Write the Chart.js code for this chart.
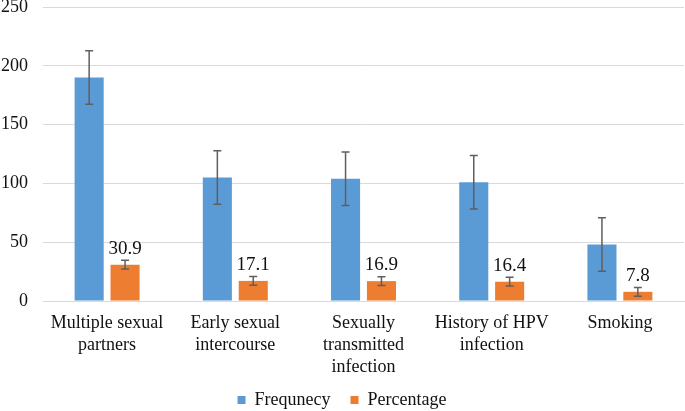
<!DOCTYPE html>
<html>
<head>
<meta charset="utf-8">
<script src="https://cdn.jsdelivr.net/npm/chart.js@4"></script>
<style>
  html, body { margin: 0; padding: 0; background: #fff; }
  #wrap { width: 685px; height: 411px; }
</style>
</head>
<body>
<div id="wrap"><canvas id="chart"></canvas></div>
<script>
const categories = [
  ['Multiple sexual', 'partners'],
  ['Early sexual', 'intercourse'],
  ['Sexually', 'transmitted', 'infection'],
  ['History of HPV', 'infection'],
  ['Smoking']
];
const frequency = [190, 105, 104, 101, 48];
const percentage = [30.9, 17.1, 16.9, 16.4, 7.8];
const frequencyErr = [22.8, 22.8, 22.8, 22.8, 22.8];
const percentageErr = [3.7, 3.7, 3.7, 3.7, 3.7];
const yTicks = [0, 50, 100, 150, 200, 250];

const serif = '"Liberation Serif", "Times New Roman", serif';

// error bars + value labels on the percentage bars
const errorBars = {
  id: 'errorBars',
  afterDatasetsDraw(chart) {
    const ctx = chart.ctx;
    const y = chart.scales.y;
    chart.data.datasets.forEach((ds, di) => {
      const meta = chart.getDatasetMeta(di);
      meta.data.forEach((bar, i) => {
        const v = ds.data[i];
        const e = ds.errors[i];
        const top = y.getPixelForValue(v + e);
        const bot = y.getPixelForValue(v - e);
        ctx.save();
        ctx.strokeStyle = '#5f5f5f';
        ctx.lineWidth = 1.5;
        ctx.beginPath();
        ctx.moveTo(bar.x, top); ctx.lineTo(bar.x, bot);
        ctx.moveTo(bar.x - 4, top); ctx.lineTo(bar.x + 4, top);
        ctx.moveTo(bar.x - 4, bot); ctx.lineTo(bar.x + 4, bot);
        ctx.stroke();
        if (ds.showValues) {
          ctx.fillStyle = '#111';
          ctx.font = '19px ' + serif;
          ctx.textAlign = 'center';
          ctx.textBaseline = 'bottom';
          ctx.fillText(String(v), bar.x, top - 2);
        }
        ctx.restore();
      });
    });
  }
};

// legend box is kept short for the layout, then stretched upward for drawing
const legendNudge = {
  id: 'legendNudge',
  afterLayout(chart) {
    chart.legend.top -= 18;
    chart.legend.height += 18;
  }
};

new Chart(document.getElementById('chart'), {
  type: 'bar',
  data: {
    labels: categories,
    datasets: [
      {
        label: 'Frequnecy',
        data: frequency,
        errors: frequencyErr,
        backgroundColor: '#5B9BD5',
        categoryPercentage: 0.56,
        barPercentage: 0.81
      },
      {
        label: 'Percentage',
        data: percentage,
        errors: percentageErr,
        showValues: true,
        backgroundColor: '#ED7D31',
        categoryPercentage: 0.56,
        barPercentage: 0.81
      }
    ]
  },
  options: {
    responsive: true,
    maintainAspectRatio: false,
    animation: false,
    layout: { padding: { top: 0, right: 1, left: 0, bottom: 0 } },
    plugins: {
      legend: {
        position: 'bottom',
        maxHeight: 22,
        labels: {
          boxWidth: 8,
          boxHeight: 8,
          color: '#111',
          font: { family: serif, size: 18 },
          padding: 20
        }
      },
      tooltip: { enabled: false }
    },
    scales: {
      x: {
        grid: { display: false, drawTicks: false },
        border: { color: '#d9d9d9', width: 1 },
        ticks: {
          color: '#111',
          font: { family: serif, size: 18, lineHeight: 1.22 },
          padding: 11,
          maxRotation: 0,
          autoSkip: false
        },
        afterFit: axis => {
          axis.height = 88;
          axis.paddingLeft = 0;
          axis.paddingRight = 0;
        }
      },
      y: {
        min: 0,
        max: 250,
        afterBuildTicks: axis => { axis.ticks = yTicks.map(v => ({ value: v })); },
        grid: { color: '#d9d9d9', drawTicks: false },
        border: { display: false },
        ticks: {
          color: '#111',
          font: { family: serif, size: 18 },
          padding: 15
        },
        afterFit: axis => {
          axis.width = 43;
          axis.paddingTop = 7;
          axis.paddingBottom = 0;
        }
      }
    }
  },
  plugins: [errorBars, legendNudge]
});
</script>
</body>
</html>
